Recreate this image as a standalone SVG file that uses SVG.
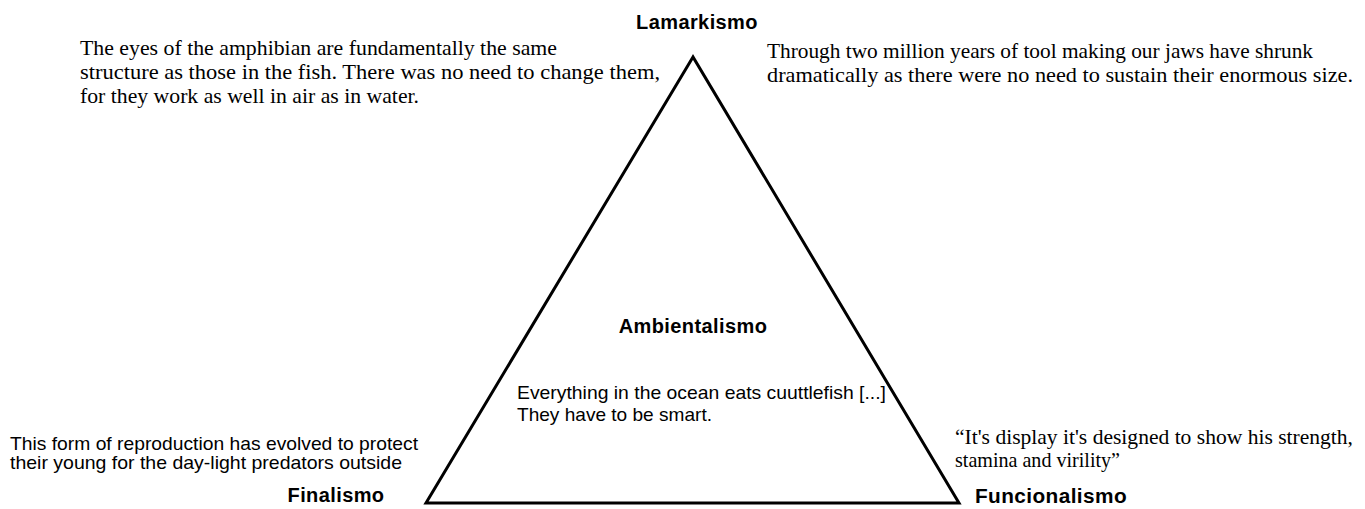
<svg xmlns="http://www.w3.org/2000/svg" width="1365" height="509" viewBox="0 0 1365 509">
<style>
.lbl{font-family:"Liberation Sans",Arial,sans-serif;font-weight:bold;font-size:20px;fill:#000;letter-spacing:0.4px}
.serif{font-family:"Liberation Serif","Times New Roman",serif;font-size:21px;fill:#000}
.sans{font-family:"Liberation Sans",Arial,sans-serif;font-size:19px;fill:#000}
</style>
<rect width="1365" height="509" fill="#fff"/>
<g id="connectors">
<polygon points="693,57 426,503 959,503" fill="none" stroke="#000" stroke-width="3" stroke-linejoin="miter"/>
</g>
<g id="lamarkismo">
<text class="lbl" x="697" y="29" text-anchor="middle">Lamarkismo</text>
<text class="serif" x="80" y="55" textLength="477" lengthAdjust="spacingAndGlyphs">The eyes of the amphibian are fundamentally the same</text>
<text class="serif" x="80" y="79" textLength="580" lengthAdjust="spacingAndGlyphs">structure as those in the fish. There was no need to change them,</text>
<text class="serif" x="80" y="103" textLength="339" lengthAdjust="spacingAndGlyphs">for they work as well in air as in water.</text>
<text class="serif" x="767" y="58" textLength="546" lengthAdjust="spacingAndGlyphs">Through two million years of tool making our jaws have shrunk</text>
<text class="serif" x="767" y="82" textLength="586" lengthAdjust="spacingAndGlyphs">dramatically as there were no need to sustain their enormous size.</text>
</g>
<g id="ambientalismo">
<text class="lbl" x="693" y="333" text-anchor="middle">Ambientalismo</text>
<text class="sans" x="517" y="399" textLength="369" lengthAdjust="spacingAndGlyphs">Everything in the ocean eats cuuttlefish [...]</text>
<text class="sans" x="517" y="421" textLength="195" lengthAdjust="spacingAndGlyphs">They have to be smart.</text>
</g>
<g id="finalismo">
<text class="lbl" x="336" y="502" text-anchor="middle">Finalismo</text>
<text class="sans" x="10" y="450" textLength="408" lengthAdjust="spacingAndGlyphs">This form of reproduction has evolved to protect</text>
<text class="sans" x="10" y="469" textLength="392" lengthAdjust="spacingAndGlyphs">their young for the day-light predators outside</text>
</g>
<g id="funcionalismo">
<text class="lbl" x="975" y="503" textLength="152" lengthAdjust="spacingAndGlyphs">Funcionalismo</text>
<text class="serif" x="955" y="444" textLength="398" lengthAdjust="spacingAndGlyphs">“It's display it's designed to show his strength,</text>
<text class="serif" x="955" y="467" textLength="165" lengthAdjust="spacingAndGlyphs">stamina and virility”</text>
</g>
</svg>
